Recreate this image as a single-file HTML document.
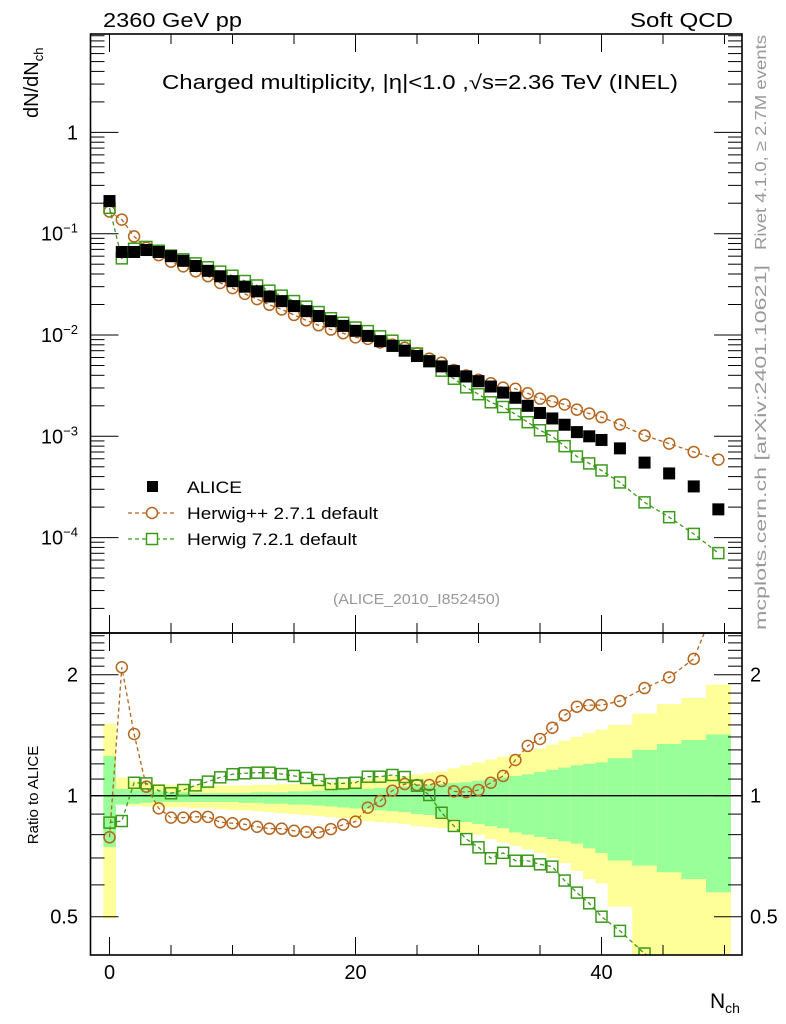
<!DOCTYPE html>
<html><head><meta charset="utf-8">
<style>
html,body{margin:0;padding:0;background:#fff;}
svg{display:block;font-family:"Liberation Sans",Arial,sans-serif;}
</style></head>
<body>
<svg id="chart" width="786" height="1024" viewBox="0 0 786 1024" xmlns="http://www.w3.org/2000/svg">
<g id="bands"></g>
<g id="marks"></g>
<g id="axes"></g>
<text x="103" y="27" font-size="20" textLength="139" lengthAdjust="spacingAndGlyphs">2360 GeV pp</text>
<text x="630" y="27" font-size="20" textLength="103" lengthAdjust="spacingAndGlyphs">Soft QCD</text>
<text x="162" y="89" font-size="20" textLength="516" lengthAdjust="spacingAndGlyphs">Charged multiplicity, |η|&lt;1.0 ,√s=2.36 TeV (INEL)</text>
<text transform="translate(38,118) rotate(-90)" font-size="20">dN/dN<tspan font-size="13" dy="5">ch</tspan></text>
<text transform="translate(38,795) rotate(-90)" font-size="15" text-anchor="middle">Ratio to ALICE</text>
<text x="710" y="1008" font-size="21">N<tspan font-size="14" dy="5">ch</tspan></text>
<text transform="translate(766,250) rotate(-90)" font-size="16" fill="#999" textLength="215" lengthAdjust="spacingAndGlyphs">Rivet 4.1.0, ≥ 2.7M events</text>
<text transform="translate(766,630) rotate(-90)" font-size="16" fill="#999" textLength="365" lengthAdjust="spacingAndGlyphs">mcplots.cern.ch [arXiv:2401.10621]</text>
<text x="333" y="604" font-size="15" fill="#999" textLength="167" lengthAdjust="spacingAndGlyphs">(ALICE_2010_I852450)</text>
<g>
 <rect x="147" y="481" width="11" height="11" fill="#000"/>
 <text x="187" y="493" font-size="17" textLength="55" lengthAdjust="spacingAndGlyphs">ALICE</text>
 <line x1="128" y1="513" x2="176" y2="513" stroke="#b5651d" stroke-width="1.3" stroke-dasharray="4,3"/>
 <circle cx="152" cy="513" r="5.5" fill="#fff" stroke="#b5651d" stroke-width="1.5"/>
 <text x="187" y="519" font-size="17" textLength="191" lengthAdjust="spacingAndGlyphs">Herwig++ 2.7.1 default</text>
 <line x1="128" y1="539" x2="176" y2="539" stroke="#3c9a1a" stroke-width="1.3" stroke-dasharray="4,3"/>
 <rect x="146.5" y="533.5" width="11" height="11" fill="#fff" stroke="#3c9a1a" stroke-width="1.5"/>
 <text x="187" y="545" font-size="17" textLength="170" lengthAdjust="spacingAndGlyphs">Herwig 7.2.1 default</text>
</g>
</svg>
<script>
const nch = [0,1,2,3,4,5,6,7,8,9,10,11,12,13,14,15,16,17,18,19,20,21,22,23,24,25,26,27,28,29,30,31,32,33,34,35,36,37,38,39,40,41.5,43.5,45.5,47.5,49.5];
const binHalf = [0.5,0.5,0.5,0.5,0.5,0.5,0.5,0.5,0.5,0.5,0.5,0.5,0.5,0.5,0.5,0.5,0.5,0.5,0.5,0.5,0.5,0.5,0.5,0.5,0.5,0.5,0.5,0.5,0.5,0.5,0.5,0.5,0.5,0.5,0.5,0.5,0.5,0.5,0.5,0.5,0.5,1,1,1,1,1];
const alice = [0.21,0.066,0.066,0.069,0.066,0.060,0.054,0.048,0.043,0.038,0.034,0.030,0.027,0.024,0.0216,0.0193,0.0172,0.0154,0.0137,0.0123,0.0110,0.0098,0.0087,0.0078,0.0070,0.0062,0.0055,0.0049,0.0044,0.0039,0.0035,0.0031,0.0027,0.0024,0.0020,0.0017,0.0015,0.0013,0.0011,0.0010,0.00092,0.00076,0.00055,0.00043,0.00032,0.00019];
const ratioHpp = [0.788,2.087,1.424,1.053,0.930,0.882,0.882,0.886,0.886,0.859,0.854,0.849,0.837,0.828,0.828,0.818,0.812,0.81,0.826,0.847,0.862,0.934,0.970,1.029,1.069,1.063,1.063,1.088,1.025,1.021,1.033,1.077,1.12,1.227,1.33,1.384,1.476,1.585,1.665,1.68,1.68,1.72,1.853,1.97,2.19,3.1];
const ratioH7 = [0.857,0.865,1.077,1.073,1.029,1.014,1.033,1.061,1.084,1.111,1.131,1.137,1.141,1.141,1.132,1.12,1.107,1.094,1.069,1.073,1.077,1.115,1.115,1.126,1.113,1.059,1.004,0.907,0.841,0.78,0.744,0.699,0.721,0.689,0.689,0.675,0.666,0.615,0.574,0.540,0.50,0.461,0.405,0.37,0.34,0.37];
const yelUp = [1.51,1.11,1.09,1.08,1.07,1.065,1.06,1.06,1.06,1.06,1.06,1.06,1.065,1.065,1.07,1.07,1.075,1.075,1.08,1.085,1.09,1.10,1.11,1.12,1.12,1.13,1.14,1.15,1.17,1.19,1.21,1.23,1.25,1.27,1.29,1.31,1.34,1.37,1.40,1.43,1.46,1.50,1.60,1.69,1.75,1.89];
const yelLo = [0.495,0.95,0.945,0.94,0.94,0.935,0.935,0.93,0.93,0.925,0.92,0.92,0.915,0.91,0.905,0.90,0.895,0.89,0.885,0.88,0.87,0.865,0.86,0.855,0.85,0.84,0.835,0.83,0.82,0.81,0.80,0.78,0.765,0.75,0.735,0.72,0.70,0.68,0.65,0.62,0.605,0.53,0.3,0.3,0.3,0.3];
const grnUp = [1.255,1.04,1.035,1.03,1.025,1.02,1.02,1.015,1.015,1.015,1.015,1.015,1.02,1.02,1.02,1.025,1.025,1.03,1.03,1.035,1.04,1.04,1.045,1.05,1.055,1.06,1.065,1.07,1.075,1.08,1.09,1.10,1.11,1.12,1.13,1.145,1.16,1.175,1.19,1.20,1.21,1.24,1.30,1.345,1.376,1.42];
const grnLo = [0.746,0.95,0.955,0.96,0.965,0.965,0.965,0.965,0.965,0.965,0.965,0.96,0.96,0.955,0.955,0.95,0.95,0.945,0.94,0.935,0.93,0.925,0.92,0.915,0.91,0.90,0.895,0.885,0.875,0.86,0.85,0.84,0.83,0.81,0.80,0.79,0.78,0.77,0.76,0.74,0.72,0.69,0.67,0.645,0.62,0.575];
const xTicks = [0,20,40];
const ratioTicks = [0.5,1,2];
const mainDecades = [-4,-3,-2,-1,0];

const NS='http://www.w3.org/2000/svg';
const L=90.5,R=742,T=34,MB=633,RB=955;
function X(n){return 109.5+12.3*n;}
function YM(v){return 233.7-101.3*(Math.log10(v)+1);}
function YR(r){return 795.7-121*Math.log2(r);}
function mk(tag,attrs,parent){const e=document.createElementNS(NS,tag);for(const k in attrs)e.setAttribute(k,attrs[k]);parent.appendChild(e);return e;}
const svg=document.getElementById('chart');
const defs=mk('defs',{},svg);
const c1=mk('clipPath',{id:'cm'},defs);mk('rect',{x:L,y:T,width:R-L,height:MB-T},c1);
const c2=mk('clipPath',{id:'cr'},defs);mk('rect',{x:L,y:MB,width:R-L,height:RB-MB},c2);
const bands=document.getElementById('bands');bands.setAttribute('clip-path','url(#cr)');
const marks=document.getElementById('marks');
const gMain=mk('g',{'clip-path':'url(#cm)'},marks);


const gRat=mk('g',{'clip-path':'url(#cr)'},marks);



nch.forEach((n,i)=>{
  const x0=X(n-binHalf[i]),x1=X(n+binHalf[i]);
  const y=mk('rect',{x:x0,y:YR(yelUp[i]),width:x1-x0+0.3,height:YR(yelLo[i])-YR(yelUp[i]),fill:'#ffff99'},bands);
  
  
  const g=mk('rect',{x:x0,y:YR(grnUp[i]),width:x1-x0+0.3,height:YR(grnLo[i])-YR(grnUp[i]),fill:'#99ff99'},bands);
  
  
});
const one=mk('line',{x1:L,x2:R,y1:YR(1),y2:YR(1),stroke:'#000','stroke-width':1.3},gRat);



const hpp=nch.map((n,i)=>alice[i]*ratioHpp[i]);
const h7=nch.map((n,i)=>alice[i]*ratioH7[i]);
function series(vals,yf,color,shape,parent,name){
  const pts=nch.map((n,i)=>X(n)+','+yf(vals[i])).join(' ');
  const pl=mk('polyline',{points:pts,fill:'none',stroke:color,'stroke-width':1.3,'stroke-dasharray':'4,3'},parent);
  
  
  nch.forEach((n,i)=>{
    let e;
    if(shape==='c') e=mk('circle',{cx:X(n),cy:yf(vals[i]),r:5.5,fill:'none',stroke:color,'stroke-width':1.5},parent);
    else e=mk('rect',{x:X(n)-5.5,y:yf(vals[i])-5.5,width:11,height:11,fill:'none',stroke:color,'stroke-width':1.5},parent);
    
    
  });
}
series(hpp,YM,'#b5651d','c',gMain,'herwigpp');
series(h7,YM,'#3c9a1a','s',gMain,'herwig7');
nch.forEach((n,i)=>{
  const e=mk('rect',{x:X(n)-6,y:YM(alice[i])-6,width:12,height:12,fill:'#000'},gMain);
  
  
});
series(ratioHpp,YR,'#b5651d','c',gRat,'herwigpp-ratio');
series(ratioH7,YR,'#3c9a1a','s',gRat,'herwig7-ratio');

const ax=document.getElementById('axes');
function ln(x1,y1,x2,y2,w){return mk('line',{x1,y1,x2,y2,stroke:'#000','stroke-width':w||1},ax);}
const fr1=mk('rect',{x:L,y:T,width:R-L,height:MB-T,fill:'none',stroke:'#000','stroke-width':1.6},ax);


const fr2=mk('rect',{x:L,y:MB,width:R-L,height:RB-MB,fill:'none',stroke:'#000','stroke-width':1.6},ax);


for(let n=0;n<=50;n+=5){
  const major=xTicks.includes(n);const len=major?18:10;const x=X(n);
  ln(x,RB,x,RB-len);ln(x,MB,x,MB+len);ln(x,MB,x,MB-len);ln(x,T,x,T+len);
}
xTicks.forEach(n=>{
  const t=mk('text',{x:X(n),y:979,'font-size':20,'text-anchor':'middle'},ax);t.textContent=n;
  
  
});
for(let d=-5;d<=1;d++){
  for(let m=1;m<10;m++){
    const y=YM(m*Math.pow(10,d));if(y<T||y>MB)continue;
    const len=m===1?28:14;ln(L,y,L+len,y);ln(R,y,R-len,y);
  }
}
mainDecades.forEach(d=>{
  const y=YM(Math.pow(10,d));
  const t=mk('text',{x:78,y:y+7,'font-size':20,'text-anchor':'end'},ax);
  
  
  if(d===0){t.textContent='1';}
  else{t.textContent='10';const s=mk('tspan',{dy:-8,'font-size':13},t);s.textContent='−'+(-d);}
});
for(let r=0.4;r<=2.55;r+=0.1){
  const rr=Math.round(r*10)/10;const y=YR(rr);if(y<MB||y>RB)continue;
  const major=ratioTicks.includes(rr);const len=major?28:14;ln(L,y,L+len,y);ln(R,y,R-len,y);
}
ratioTicks.forEach(r=>{
  const y=YR(r);
  const a=mk('text',{x:78,y:y+7,'font-size':20,'text-anchor':'end'},ax);a.textContent=r;
  
  
  const b=mk('text',{x:750,y:y+7,'font-size':20},ax);b.textContent=r;
  
  
});
</script>
</body></html>
